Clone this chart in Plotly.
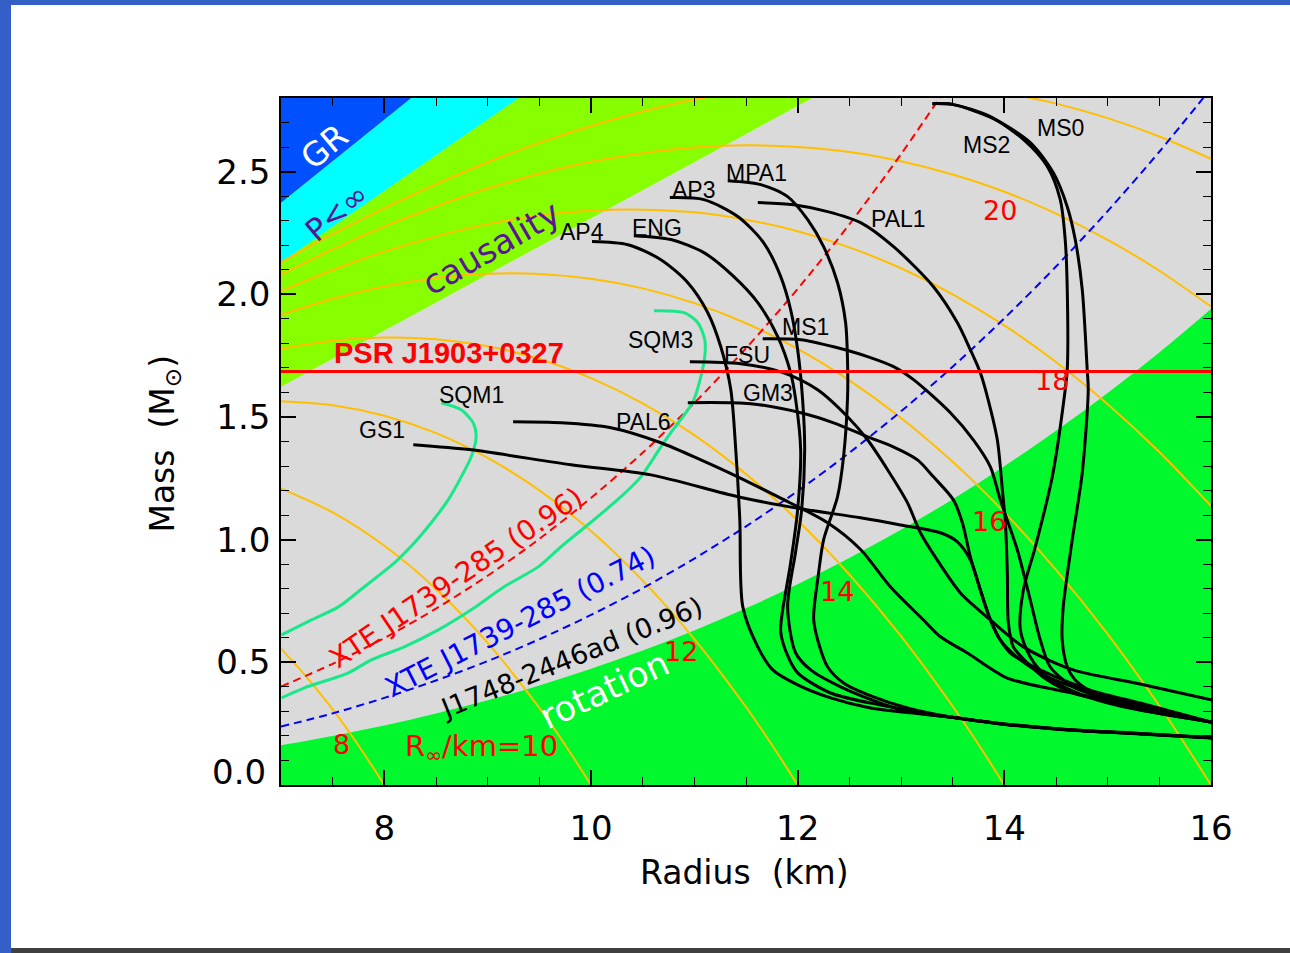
import plotly.graph_objects as go

# ---------------- data ----------------
x_tick_vals = [8, 10, 12, 14, 16]
y_tick_vals = [0.0, 0.5, 1.0, 1.5, 2.0, 2.5]
y_tick_text = ["0.0", "0.5", "1.0", "1.5", "2.0", "2.5"]

# excluded / constraint regions
gr_R = [7.0, 8.26, 7.0]
gr_M = [2.373, 2.8, 2.8]
pinf_R = [7.0, 9.30, 8.26, 7.0]
pinf_M = [2.13, 2.8, 2.8, 2.373]
caus_R = [7.0, 12.14, 9.30, 7.0]
caus_M = [1.623, 2.8, 2.8, 2.13]

# rotation limit J1748-2446ad (716 Hz)
rot_R = [7.0, 7.5, 8.0, 8.5, 9.0, 9.5, 10.0, 10.5, 11.0, 11.5, 12.0, 12.5, 13.0, 13.5, 14.0, 14.5, 15.0, 15.5, 16.0]
rot_M = [0.162, 0.200, 0.242, 0.291, 0.345, 0.406, 0.474, 0.548, 0.630, 0.720, 0.818, 0.925, 1.040, 1.165, 1.299, 1.444, 1.598, 1.763, 1.940]

# XTE J1739-285 mass-shedding limits
xte96_R = [7.0, 7.5, 8.0, 8.5, 9.0, 9.5, 10.0, 10.5, 11.0, 11.5, 12.0, 12.5, 13.0, 13.5]
xte96_M = [0.401, 0.494, 0.599, 0.719, 0.853, 1.003, 1.170, 1.354, 1.557, 1.780, 2.022, 2.285, 2.571, 2.879]
xte74_R = [7.0, 7.5, 8.0, 8.5, 9.0, 9.5, 10.0, 10.5, 11.0, 11.5, 12.0, 12.5, 13.0, 13.5, 14.0, 14.5, 15.0, 15.5, 16.0]
xte74_M = [0.238, 0.292, 0.355, 0.426, 0.505, 0.594, 0.693, 0.802, 0.923, 1.054, 1.198, 1.354, 1.523, 1.705, 1.902, 2.113, 2.339, 2.581, 2.839]

# PSR J1903+0327 mass
psr_M = 1.685

# constant R_inf contours
rinf_labels = ["8", "R<sub>∞</sub>/km=10", "12", "14", "16", "18", "20"]
rinf8_R = [7.0, 7.25, 7.5, 7.75, 8.0]
rinf8_M = [0.556, 0.439, 0.308, 0.161, 0.0]
rinf10_R = [7.0, 7.5, 8.0, 8.5, 9.0, 9.5, 9.75, 10.0]
rinf10_M = [1.209, 1.111, 0.975, 0.799, 0.579, 0.314, 0.163, 0.0]
rinf12_R = [7.0, 7.5, 8.0, 8.5, 9.0, 9.5, 10.0, 10.5, 11.0, 11.5, 11.75, 12.0]
rinf12_M = [1.564, 1.548, 1.505, 1.434, 1.333, 1.201, 1.035, 0.833, 0.595, 0.318, 0.164, 0.0]
rinf14_R = [7.0, 7.5, 8.0, 8.5, 9.0, 9.5, 10.0, 10.5, 11.0, 11.5, 12.0, 12.5, 13.0, 13.5, 13.75, 14.0]
rinf14_M = [1.778, 1.811, 1.824, 1.817, 1.788, 1.736, 1.658, 1.555, 1.426, 1.267, 1.078, 0.858, 0.607, 0.321, 0.165, 0.0]
rinf16_R = [7.0, 7.5, 8.0, 8.5, 9.0, 9.5, 10.0, 10.5, 11.0, 11.5, 12.0, 12.5, 13.0, 13.5, 14.0, 14.5, 15.0, 15.5, 15.75, 16.0]
rinf16_M = [1.916, 1.982, 2.032, 2.066, 2.084, 2.083, 2.063, 2.024, 1.964, 1.882, 1.778, 1.649, 1.496, 1.317, 1.111, 0.877, 0.615, 0.323, 0.165, 0.0]
rinf18_R = [7.0, 7.5, 8.0, 8.5, 9.0, 9.5, 10.0, 10.5, 11.0, 11.5, 12.0, 12.5, 13.0, 13.5, 14.0, 14.5, 15.0, 15.5, 16.0]
rinf18_M = [2.012, 2.099, 2.174, 2.236, 2.286, 2.321, 2.341, 2.345, 2.334, 2.304, 2.257, 2.191, 2.106, 2.000, 1.873, 1.724, 1.552, 1.357, 1.137]
rinf20_R = [7.0, 7.5, 8.0, 8.5, 9.0, 9.5, 10.0, 10.5, 11.0, 11.5, 12.0, 12.5, 13.0, 13.5, 14.0, 14.5, 15.0, 15.5, 16.0]
rinf20_M = [2.080, 2.183, 2.276, 2.358, 2.431, 2.491, 2.540, 2.575, 2.598, 2.607, 2.600, 2.580, 2.542, 2.488, 2.418, 2.329, 2.222, 2.096, 1.950]
rinf22_R = [7.0, 7.5, 8.0, 8.5, 9.0, 9.5, 10.0, 10.5, 11.0, 11.5, 12.0, 12.5, 13.0, 13.5, 14.0, 14.5, 15.0, 15.5, 16.0]
rinf22_M = [2.130, 2.245, 2.351, 2.448, 2.538, 2.617, 2.686, 2.745, 2.794, 2.830, 2.854, 2.867, 2.865, 2.850, 2.821, 2.777, 2.718, 2.643, 2.552]

# EOS mass-radius curves
AP4_R = [10.010, 10.357, 10.676, 10.937, 11.130, 11.256, 11.353, 11.401, 11.440, 11.469, 11.614, 11.759, 12.000, 12.319, 12.705, 13.092, 13.478, 13.961, 14.609, 15.314, 16.0]
AP4_M = [2.215, 2.202, 2.141, 2.047, 1.925, 1.786, 1.611, 1.366, 1.081, 0.726, 0.563, 0.469, 0.408, 0.355, 0.314, 0.294, 0.277, 0.249, 0.224, 0.208, 0.192]
ENG_R = [10.415, 10.773, 11.092, 11.382, 11.614, 11.807, 11.932, 11.981, 12.029, 12.000, 11.930, 11.850, 11.836, 11.900, 12.000, 12.319, 12.802, 13.478, 13.961, 14.609, 15.314, 16.0]
ENG_M = [2.239, 2.223, 2.170, 2.072, 1.966, 1.827, 1.680, 1.570, 1.366, 1.122, 0.900, 0.700, 0.624, 0.530, 0.457, 0.375, 0.326, 0.277, 0.250, 0.225, 0.209, 0.193]
AP3_R = [10.763, 11.092, 11.420, 11.671, 11.836, 11.932, 12.000, 12.048, 12.068, 12.039, 11.980, 11.903, 11.981, 12.126, 12.416, 12.802, 13.092, 13.478, 13.961, 14.609, 15.314, 16.0]
AP3_M = [2.394, 2.386, 2.317, 2.210, 2.072, 1.937, 1.774, 1.570, 1.366, 1.122, 0.950, 0.726, 0.538, 0.469, 0.400, 0.334, 0.298, 0.277, 0.251, 0.226, 0.210, 0.194]
MPA1_R = [11.324, 11.643, 11.903, 12.097, 12.251, 12.386, 12.464, 12.483, 12.483, 12.444, 12.386, 12.251, 12.203, 12.155, 12.222, 12.290, 12.444, 12.734, 13.063, 13.478, 13.961, 14.609, 15.314, 16.0]
MPA1_M = [2.463, 2.447, 2.398, 2.304, 2.194, 2.047, 1.884, 1.721, 1.582, 1.338, 1.175, 0.999, 0.865, 0.673, 0.551, 0.481, 0.416, 0.359, 0.314, 0.277, 0.250, 0.225, 0.209, 0.193]
PAL1_R = [11.614, 11.961, 12.290, 12.609, 12.928, 13.314, 13.546, 13.671, 13.768, 13.836, 13.932, 13.981, 14.010, 14.029, 14.039, 14.087, 14.222, 14.416, 14.667, 14.928, 15.411, 16.0]
PAL1_M = [2.374, 2.365, 2.337, 2.292, 2.194, 2.031, 1.884, 1.774, 1.680, 1.582, 1.407, 1.203, 1.069, 0.865, 0.661, 0.563, 0.498, 0.428, 0.375, 0.347, 0.298, 0.257]
MS1_R = [11.662, 12.029, 12.348, 12.676, 12.928, 13.121, 13.478, 13.700, 13.865, 13.961, 14.126, 14.251, 14.348, 14.444, 14.667, 14.928, 15.411, 16.0]
MS1_M = [1.819, 1.815, 1.786, 1.746, 1.705, 1.652, 1.517, 1.407, 1.297, 1.162, 0.958, 0.754, 0.591, 0.481, 0.400, 0.359, 0.306, 0.257]
MS2_R = [13.304, 13.507, 13.865, 14.184, 14.416, 14.541, 14.589, 14.609, 14.609, 14.589, 14.464, 14.300, 14.184, 14.155, 14.251, 14.416, 14.705, 15.121, 16.0]
MS2_M = [2.777, 2.773, 2.724, 2.631, 2.521, 2.386, 2.223, 2.019, 1.692, 1.611, 1.256, 0.971, 0.795, 0.632, 0.522, 0.440, 0.375, 0.322, 0.257]
MS0_R = [13.304, 13.507, 13.900, 14.251, 14.473, 14.609, 14.686, 14.754, 14.802, 14.812, 14.754, 14.657, 14.570, 14.560, 14.609, 14.686, 14.928, 15.411, 16.0]
MS0_M = [2.777, 2.773, 2.715, 2.618, 2.496, 2.357, 2.223, 2.019, 1.692, 1.611, 1.272, 0.999, 0.726, 0.591, 0.481, 0.428, 0.359, 0.306, 0.257]
FSU_R = [10.957, 11.449, 11.865, 12.193, 12.483, 12.676, 12.870, 13.063, 13.188, 13.382, 13.575, 13.865, 14.184, 14.667, 15.314, 16.0]
FSU_M = [1.725, 1.717, 1.680, 1.611, 1.501, 1.407, 1.285, 1.150, 1.028, 0.897, 0.783, 0.673, 0.563, 0.469, 0.412, 0.347]
GM3_R = [10.937, 11.546, 12.029, 12.348, 12.676, 12.899, 13.159, 13.314, 13.507, 13.594, 13.671, 13.768, 13.865, 13.961, 14.155, 14.444, 14.831, 15.314, 16.0]
GM3_M = [1.558, 1.554, 1.517, 1.476, 1.419, 1.383, 1.325, 1.256, 1.162, 1.069, 0.930, 0.795, 0.673, 0.591, 0.510, 0.436, 0.379, 0.326, 0.257]
GS1_R = [8.280, 8.841, 9.807, 10.580, 11.420, 12.029, 12.609, 12.995, 13.382, 13.546, 13.671, 13.768, 13.865, 13.961, 14.058, 14.348, 14.831, 15.314, 16.0]
GS1_M = [1.387, 1.366, 1.305, 1.264, 1.175, 1.126, 1.089, 1.060, 1.028, 0.991, 0.918, 0.795, 0.673, 0.591, 0.538, 0.469, 0.387, 0.334, 0.257]
PAL6_R = [9.246, 9.710, 10.193, 10.676, 11.063, 11.420, 11.807, 12.290, 12.609, 12.899, 13.217, 13.382, 13.643, 14.029, 14.512, 14.995, 15.411, 16.0]
PAL6_M = [1.480, 1.476, 1.456, 1.395, 1.325, 1.256, 1.175, 1.069, 0.960, 0.807, 0.673, 0.604, 0.538, 0.436, 0.387, 0.347, 0.306, 0.257]
SQM1_R = [8.551, 8.744, 8.860, 8.889, 8.841, 8.744, 8.618, 8.454, 8.290, 8.097, 7.807, 7.556, 7.295, 7.005]
SQM1_M = [1.558, 1.529, 1.476, 1.419, 1.338, 1.256, 1.162, 1.069, 0.987, 0.905, 0.808, 0.726, 0.673, 0.612]
SQM3_R = [10.609, 10.899, 11.034, 11.101, 11.101, 11.063, 10.995, 10.937, 10.773, 10.676, 10.483, 10.290, 10.029, 9.710, 9.488, 9.159, 8.841, 8.522, 8.193, 7.874, 7.652, 7.227, 7.005]
SQM3_M = [1.933, 1.925, 1.884, 1.815, 1.746, 1.664, 1.570, 1.529, 1.436, 1.378, 1.256, 1.175, 1.081, 0.971, 0.889, 0.808, 0.714, 0.632, 0.563, 0.510, 0.457, 0.396, 0.355]

# ---------------- styles ----------------
ORANGE = "#ffbf00"
PURPLE = "#5a1496"
ROUND_FONT = "DejaVu Sans"
ARIAL = "Liberation Sans"

fig = go.Figure()


def poly(R, M, color):
    fig.add_trace(go.Scatter(x=R, y=M, mode="lines", fill="toself", fillcolor=color,
                             line=dict(width=0), hoverinfo="skip", showlegend=False))


def curve(R, M, color, width, dash=None, smooth=0.8):
    fig.add_trace(go.Scatter(x=R, y=M, mode="lines",
                             line=dict(color=color, width=width, dash=dash, shape="spline", smoothing=smooth),
                             hoverinfo="skip", showlegend=False))


poly(caus_R, caus_M, "#88ff00")
poly(pinf_R, pinf_M, "#00ffff")
poly(gr_R, gr_M, "#0050ff")
fig.add_trace(go.Scatter(x=rot_R, y=rot_M, mode="lines", fill="tozeroy", fillcolor="#00f82c",
                         line=dict(width=0, shape="spline"), hoverinfo="skip", showlegend=False))

for R, M in [(rinf8_R, rinf8_M), (rinf10_R, rinf10_M), (rinf12_R, rinf12_M), (rinf14_R, rinf14_M),
             (rinf16_R, rinf16_M), (rinf18_R, rinf18_M), (rinf20_R, rinf20_M), (rinf22_R, rinf22_M)]:
    curve(R, M, ORANGE, 2)

curve(xte96_R, xte96_M, "#ff0000", 2, dash="8px,5px")
curve(xte74_R, xte74_M, "#0000ff", 2, dash="8px,5px")

curve(SQM1_R, SQM1_M, "#19e88a", 3)
curve(SQM3_R, SQM3_M, "#19e88a", 3)

for R, M in [(AP4_R, AP4_M), (ENG_R, ENG_M), (AP3_R, AP3_M), (MPA1_R, MPA1_M), (PAL1_R, PAL1_M),
             (MS1_R, MS1_M), (MS2_R, MS2_M), (MS0_R, MS0_M), (FSU_R, FSU_M), (GM3_R, GM3_M),
             (GS1_R, GS1_M), (PAL6_R, PAL6_M)]:
    curve(R, M, "black", 3)

fig.add_trace(go.Scatter(x=[7, 16], y=[psr_M, psr_M], mode="lines",
                         line=dict(color="#ff0000", width=3), hoverinfo="skip", showlegend=False))

ann = []


def label(text, x, y, size, color, family, angle=0, bold=False):
    ann.append(dict(text=("<b>%s</b>" % text) if bold else text, x=x, y=y, xref="x", yref="y",
                    showarrow=False, textangle=angle,
                    font=dict(size=size, color=color, family=family)))


# EOS labels
label("MS0", 14.54, 2.679, 23, "black", ARIAL)
label("MS2", 13.83, 2.610, 23, "black", ARIAL)
label("MPA1", 11.60, 2.496, 23, "black", ARIAL)
label("AP3", 10.99, 2.426, 23, "black", ARIAL)
label("PAL1", 12.98, 2.308, 23, "black", ARIAL)
label("AP4", 9.91, 2.255, 23, "black", ARIAL)
label("ENG", 10.64, 2.272, 23, "black", ARIAL)
label("MS1", 12.08, 1.868, 23, "black", ARIAL)
label("SQM3", 10.67, 1.815, 23, "black", ARIAL)
label("FSU", 11.51, 1.754, 23, "black", ARIAL)
label("GM3", 11.71, 1.599, 23, "black", ARIAL)
label("SQM1", 8.84, 1.591, 23, "black", ARIAL)
label("PAL6", 10.51, 1.480, 23, "black", ARIAL)
label("GS1", 7.98, 1.448, 23, "black", ARIAL)
label("PSR J1903+0327", 8.63, 1.762, 29, "#ff0000", ARIAL, bold=True)

# R_inf labels
label(rinf_labels[6], 13.96, 2.341, 27, "#ff0000", ROUND_FONT)
label(rinf_labels[5], 14.46, 1.648, 27, "#ff0000", ROUND_FONT)
label(rinf_labels[4], 13.85, 1.073, 27, "#ff0000", ROUND_FONT)
label(rinf_labels[3], 12.38, 0.787, 27, "#ff0000", ROUND_FONT)
label(rinf_labels[2], 10.87, 0.546, 27, "#ff0000", ROUND_FONT)
label(rinf_labels[0], 7.585, 0.167, 27, "#ff0000", ROUND_FONT)
label(rinf_labels[1], 8.94, 0.151, 29, "#ff0000", ROUND_FONT)

# region labels
label("GR", 7.42, 2.602, 33, "white", ROUND_FONT, angle=-40)
label("P&lt;∞", 7.54, 2.337, 31, PURPLE, ROUND_FONT, angle=-40)
label("causality", 9.03, 2.190, 34, PURPLE, ROUND_FONT, angle=-30)
label("rotation", 10.13, 0.387, 35, "white", ROUND_FONT, angle=-25)
label("XTE J1739-285 (0.96)", 8.70, 0.844, 28, "#ff0000", ROUND_FONT, angle=-34)
label("XTE J1739-285 (0.74)", 9.32, 0.665, 28, "#0000ff", ROUND_FONT, angle=-27)
label("J1748-2446ad (0.96)", 9.81, 0.518, 27, "black", ROUND_FONT, angle=-22)

# y tick label at zero (drawn slightly raised as in the reference)
ann.append(dict(text=y_tick_text[0], x=0, y=0, xref="paper", yref="y", xanchor="right", yanchor="middle",
                xshift=-13, yshift=13, showarrow=False,
                font=dict(size=34, color="black", family=ROUND_FONT)))

# axis titles
ann.append(dict(text="Radius  (km)", x=0.4989, y=-0.128, xref="paper", yref="paper", showarrow=False,
                xanchor="center", yanchor="middle",
                font=dict(size=33, color="black", family=ROUND_FONT)))
ann.append(dict(text="Mass  (M<sub>⊙</sub>)", x=-0.1247, y=0.497, xref="paper", yref="paper", showarrow=False,
                xanchor="center", yanchor="middle",
                textangle=-90, font=dict(size=33, color="black", family=ROUND_FONT)))

# page frame
shapes = [
    dict(type="rect", xref="paper", yref="paper", x0=-0.31, x1=-0.2903, y0=-0.25, y1=1.15,
         fillcolor="#335fc6", line=dict(width=0), layer="above"),
    dict(type="rect", xref="paper", yref="paper", x0=-0.31, x1=1.1, y0=1.1354, y1=1.15,
         fillcolor="#335fc6", line=dict(width=0), layer="above"),
    dict(type="rect", xref="paper", yref="paper", x0=-0.2903, x1=1.1, y0=-0.25, y1=-0.2373,
         fillcolor="#404040", line=dict(width=0), layer="above"),
]

y_tick_display = [""] + y_tick_text[1:]

fig.update_layout(
    width=1290, height=953, autosize=False,
    margin=dict(l=281, r=79, t=98, b=168, pad=0),
    paper_bgcolor="white", plot_bgcolor="#dadada",
    showlegend=False,
    annotations=ann, shapes=shapes,
    xaxis=dict(range=[7, 16], tickmode="array", tickvals=x_tick_vals,
               ticks="inside", ticklen=15, tickwidth=1.5, tickcolor="black",
               mirror="allticks", showline=True, linecolor="black", linewidth=1.5,
               showgrid=False, zeroline=False, ticklabelstandoff=12,
               minor=dict(ticks="inside", dtick=0.5, tick0=7, ticklen=8, tickwidth=1.2,
                          tickcolor="black", showgrid=False),
               tickfont=dict(size=34, color="black", family=ROUND_FONT)),
    yaxis=dict(range=[0, 2.8], tickmode="array", tickvals=y_tick_vals, ticktext=y_tick_display,
               ticks="inside", ticklen=15, tickwidth=1.5, tickcolor="black",
               mirror="allticks", showline=True, linecolor="black", linewidth=1.5,
               showgrid=False, zeroline=False, ticklabelstandoff=2,
               minor=dict(ticks="inside", dtick=0.1, tick0=0, ticklen=8, tickwidth=1.2,
                          tickcolor="black", showgrid=False),
               tickfont=dict(size=34, color="black", family=ROUND_FONT)),
)

fig.write_html("out.html", config={"displayModeBar": False},
               post_script="document.body.style.margin='0px';")
